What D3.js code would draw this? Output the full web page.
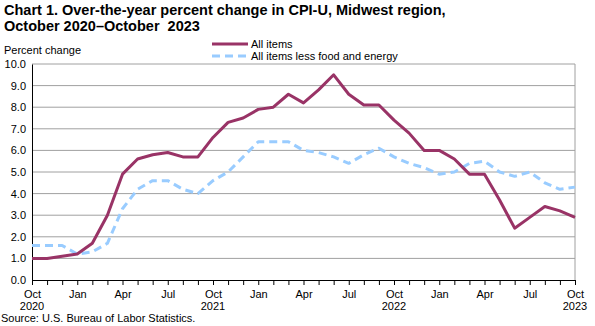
<!DOCTYPE html>
<html>
<head>
<meta charset="utf-8">
<script src="https://cdn.jsdelivr.net/npm/d3@7"></script>
<style>
  body { margin: 0; background: #fff; }
  svg text { font-family: Arial, "Liberation Sans", sans-serif; fill: #000; white-space: pre; }
</style>
</head>
<body>
<div id="chart"></div>
<script>
// Over-the-year percent change, Oct 2020 through Oct 2023 (37 months)
const allItems = [
  1.0, 1.0, 1.1, 1.2, 1.7, 3.0, 4.9, 5.6, 5.8, 5.9, 5.7, 5.7,
  6.6, 7.3, 7.5, 7.9, 8.0, 8.6, 8.2, 8.8, 9.5, 8.6, 8.1, 8.1,
  7.4, 6.8, 6.0, 6.0, 5.6, 4.9, 4.9, 3.7, 2.4, 2.9, 3.4, 3.2, 2.9
];
const coreItems = [
  1.6, 1.6, 1.6, 1.2, 1.3, 1.7, 3.3, 4.2, 4.6, 4.6, 4.2, 4.0,
  4.6, 5.0, 5.7, 6.4, 6.4, 6.4, 6.0, 5.9, 5.7, 5.4, 5.8, 6.1,
  5.7, 5.4, 5.2, 4.9, 5.0, 5.4, 5.5, 5.0, 4.8, 5.0, 4.5, 4.2, 4.3
];
const monthNames = ["Oct", "Jan", "Apr", "Jul"];
const yearLabels = { 0: "2020", 12: "2021", 24: "2022", 36: "2023" };
const yTicks = d3.range(0, 10.01, 1);

const seriesInfo = [
  { name: "All items", values: allItems, color: "#993366", dash: null },
  { name: "All items less food and energy", values: coreItems, color: "#99ccff", dash: "8,5" }
];

const W = 595, H = 326;
const margin = { top: 64, right: 20, bottom: 46, left: 32 };
const width = W - margin.left - margin.right;
const height = H - margin.top - margin.bottom;

const svg = d3.select("#chart").append("svg")
  .attr("width", W)
  .attr("height", H);

// Title
svg.append("text")
  .attr("x", 4).attr("y", 15)
  .style("font-size", "14.5px").style("font-weight", "bold")
  .text("Chart 1. Over-the-year percent change in CPI-U, Midwest region,");
svg.append("text")
  .attr("x", 4).attr("y", 31)
  .style("font-size", "14.5px").style("font-weight", "bold")
  .text("October 2020\u2013October  2023");

svg.append("text")
  .attr("x", 4).attr("y", 54)
  .style("font-size", "11px")
  .text("Percent change");

const g = svg.append("g")
  .attr("transform", `translate(${margin.left},${margin.top})`);

const x = d3.scaleLinear().domain([0, allItems.length - 1]).range([0, width]);
const y = d3.scaleLinear().domain([0, 10]).range([height, 0]);

// Horizontal grid lines
g.selectAll(".grid")
  .data(yTicks.filter(d => d > 0))
  .enter().append("line")
  .attr("class", "grid")
  .attr("x1", 0).attr("x2", width)
  .attr("y1", d => y(d)).attr("y2", d => y(d))
  .attr("stroke", "#a0a0a0").attr("stroke-width", 1);

// Right border
g.append("line")
  .attr("x1", width).attr("x2", width)
  .attr("y1", 0).attr("y2", height)
  .attr("stroke", "#a0a0a0");

// Y axis
const yAxis = g.append("g")
  .call(d3.axisLeft(y).tickValues(yTicks).tickFormat(d3.format(".1f")).tickSize(0).tickPadding(6));
yAxis.select(".domain").attr("stroke", "#000");
yAxis.selectAll("text").style("font-size", "11px").attr("font-family", null);

// X axis with monthly ticks
const xAxis = g.append("g")
  .attr("transform", `translate(0,${height})`)
  .call(d3.axisBottom(x).tickValues(d3.range(0, allItems.length)).tickSize(5).tickSizeOuter(0)
    .tickFormat(i => i % 3 === 0 ? monthNames[(i / 3) % 4] : ""));
xAxis.select(".domain").attr("stroke", "#000");
xAxis.selectAll(".tick line").attr("stroke", "#000");
xAxis.selectAll("text").style("font-size", "11px").attr("font-family", null).attr("dy", "0.95em");

// Year labels under October ticks
g.selectAll(".year")
  .data(Object.keys(yearLabels).map(Number))
  .enter().append("text")
  .attr("class", "year")
  .attr("x", d => x(d))
  .attr("y", height + 30)
  .attr("text-anchor", "middle")
  .style("font-size", "11px")
  .text(d => yearLabels[d]);

// Series lines
const line = d3.line()
  .x((d, i) => x(i))
  .y(d => y(d));

seriesInfo.slice().reverse().forEach(s => {
  g.append("path")
    .datum(s.values)
    .attr("fill", "none")
    .attr("stroke", s.color)
    .attr("stroke-width", 3)
    .attr("stroke-dasharray", s.dash)
    .attr("stroke-linejoin", "round")
    .attr("d", line);
});

// Legend
const legend = svg.append("g").attr("transform", "translate(212,44)");
seriesInfo.forEach((s, i) => {
  const row = legend.append("g").attr("transform", `translate(0,${i * 12})`);
  row.append("line")
    .attr("x1", 0).attr("x2", 36)
    .attr("stroke", s.color).attr("stroke-width", 3)
    .attr("stroke-dasharray", s.dash);
  row.append("text")
    .attr("x", 39).attr("y", 4)
    .style("font-size", "11px")
    .text(s.name);
});

// Source note
svg.append("text")
  .attr("x", 1).attr("y", 322)
  .style("font-size", "11px")
  .text("Source: U.S. Bureau of Labor Statistics.");
</script>
</body>
</html>
